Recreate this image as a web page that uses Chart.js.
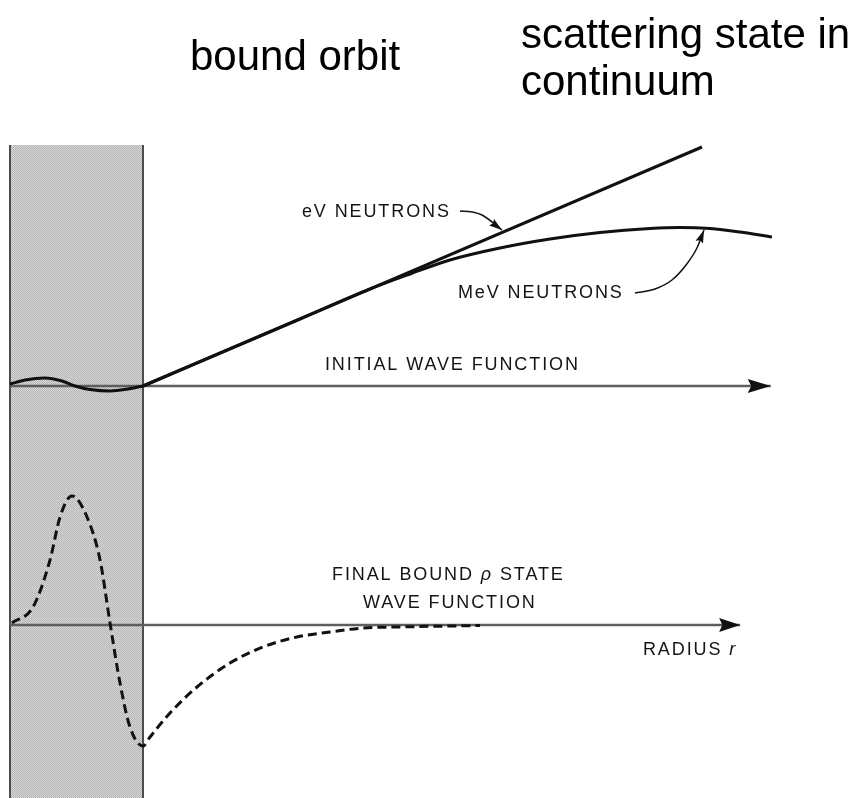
<!DOCTYPE html>
<html>
<head>
<meta charset="utf-8">
<script src="https://cdn.jsdelivr.net/npm/chart.js@4.4.0/dist/chart.umd.min.js"></script>
<style>
  html, body { margin: 0; padding: 0; background: #fff; }
  #wrap { width: 857px; height: 798px; }
</style>
</head>
<body>
<div id="wrap"><canvas id="chart" width="857" height="798"></canvas></div>
<script>
// radius r in units of the nuclear radius R, amplitudes in arbitrary units
const shadeTop = 2.41;

const initialAxisR = [0, 5.72];
const finalAxisR = [0, 5.49];

// initial wave function inside the nucleus
const innerR = [0, 0.113, 0.263, 0.391, 0.489, 0.602, 0.752, 0.887, 1.0];
const innerPsi = [0.02, 0.06, 0.08, 0.05, 0, -0.035, -0.05, -0.03, 0];

// outside: eV neutrons (straight line)
const evR = [1.0, 5.203];
const evPsi = [0, 2.39];

// outside: MeV neutrons (bends over)
const mevR = [1.0, 2.18, 2.707, 3.008, 3.308, 3.684, 4.06, 4.436, 4.812, 5.038, 5.263, 5.489, 5.729];
const mevPsi = [0, 0.67, 0.97, 1.12, 1.26, 1.38, 1.47, 1.535, 1.575, 1.585, 1.575, 1.54, 1.49];

// final bound p state (dashed)
const boundR = [0.015, 0.173, 0.301, 0.376, 0.466, 0.579, 0.677, 0.752, 0.827, 0.902, 1.0,
  1.053, 1.203, 1.406, 1.654, 1.902, 2.158, 2.406, 2.654, 2.91, 3.534];
const boundPsi = [0.02, 0.18, 0.65, 1.08, 1.29, 1.08, 0.65, 0.02, -0.58, -1.02, -1.21,
  -1.12, -0.88, -0.62, -0.38, -0.22, -0.12, -0.07, -0.03, -0.02, -0.005];

// leader lines for the labels
const evLeaderR = [3.383, 3.474, 3.549, 3.699];
const evLeaderPsi = [1.75, 1.74, 1.71, 1.56];
const mevLeaderR = [4.699, 4.85, 4.977, 5.083, 5.165, 5.218];
const mevLeaderPsi = [0.93, 0.97, 1.06, 1.21, 1.38, 1.56];

const labels = [
  { parts: [["eV NEUTRONS"]], r: 2.195, v: 1.74, axis: "y" },
  { parts: [["MeV NEUTRONS"]], r: 3.368, v: 0.93, axis: "y" },
  { parts: [["INITIAL WAVE FUNCTION"]], r: 2.368, v: 0.21, axis: "y" },
  { parts: [["FINAL BOUND "], ["\u03C1", true], [" STATE"]], r: 2.421, v: 0.5, axis: "y2" },
  { parts: [["WAVE FUNCTION"]], r: 2.654, v: 0.22, axis: "y2" },
  { parts: [["RADIUS "], ["r", true]], r: 4.759, v: -0.25, axis: "y2" },
];

function pts(xs, ys) {
  return xs.map((x, i) => ({ x: x, y: ys[i] }));
}

// fine dotted grey pattern for the nucleus
function makePattern() {
  const c = document.createElement("canvas");
  c.width = 2;
  c.height = 2;
  const g = c.getContext("2d");
  g.fillStyle = "#d8d8d8";
  g.fillRect(0, 0, 2, 2);
  g.fillStyle = "#b4b4b4";
  g.fillRect(0, 0, 1, 1);
  g.fillRect(1, 1, 1, 1);
  return g.createPattern(c, "repeat");
}

const arrowPlugin = {
  id: "arrows",
  afterDatasetsDraw(chart) {
    const ctx = chart.ctx;
    chart.data.datasets.forEach((ds, i) => {
      if (!ds.arrow) return;
      const pts = chart.getDatasetMeta(i).data;
      const a = pts[pts.length - 2];
      const b = pts[pts.length - 1];
      const ang = Math.atan2(b.y - a.y, b.x - a.x);
      const L = ds.arrow.len, W = ds.arrow.half;
      ctx.save();
      ctx.translate(b.x, b.y);
      ctx.rotate(ang);
      ctx.fillStyle = "#111";
      ctx.beginPath();
      ctx.moveTo(0, 0);
      ctx.lineTo(-L, -W);
      ctx.lineTo(-L * 0.85, 0);
      ctx.lineTo(-L, W);
      ctx.closePath();
      ctx.fill();
      ctx.restore();
    });
  },
};

const textPlugin = {
  id: "texts",
  afterDraw(chart) {
    const ctx = chart.ctx;
    const xs = chart.scales.x;
    ctx.save();
    ctx.fillStyle = "#141414";
    ctx.textBaseline = "middle";
    ctx.textAlign = "left";
    labels.forEach((lb) => {
      let px = xs.getPixelForValue(lb.r);
      const py = chart.scales[lb.axis].getPixelForValue(lb.v);
      lb.parts.forEach(([t, it]) => {
        ctx.font = (it ? "italic " : "") + "18px 'Liberation Sans', Arial, sans-serif";
        ctx.letterSpacing = "1.9px";
        ctx.fillText(t, px, py);
        px += ctx.measureText(t).width;
      });
    });
    ctx.letterSpacing = "0px";
    ctx.fillStyle = "#000";
    ctx.textBaseline = "alphabetic";
    ctx.font = "42px 'Liberation Sans', Arial, sans-serif";
    ctx.fillText("bound orbit", 190, 70);
    ctx.fillText("scattering state in", 521, 48);
    ctx.fillText("continuum", 521, 95);
    ctx.restore();
  },
};

document.addEventListener("DOMContentLoaded", function () {
  const ctx = document.getElementById("chart").getContext("2d");
  const solid = { showLine: true, pointRadius: 0, borderColor: "#111", borderWidth: 3,
    cubicInterpolationMode: "monotone", fill: false };

  new Chart(ctx, {
    type: "scatter",
    data: {
      datasets: [
        Object.assign({}, solid, { data: pts(innerR, innerPsi), yAxisID: "y" }),
        Object.assign({}, solid, { data: pts(evR, evPsi), yAxisID: "y" }),
        Object.assign({}, solid, { data: pts(mevR, mevPsi), yAxisID: "y" }),
        Object.assign({}, solid, { data: pts(boundR, boundPsi), yAxisID: "y2", borderDash: [9, 5] }),
        Object.assign({}, solid, { data: pts(evLeaderR, evLeaderPsi), yAxisID: "y", borderWidth: 1.5,
          arrow: { len: 13, half: 4 } }),
        Object.assign({}, solid, { data: pts(mevLeaderR, mevLeaderPsi), yAxisID: "y", borderWidth: 1.5,
          arrow: { len: 13, half: 4 } }),
        // axes with arrows
        Object.assign({}, solid, { data: pts(initialAxisR, [0, 0]), yAxisID: "y", borderColor: "#5e5e5e",
          borderWidth: 2.5, arrow: { len: 23, half: 7 }, order: 2 }),
        Object.assign({}, solid, { data: pts(finalAxisR, [0, 0]), yAxisID: "y2", borderColor: "#5e5e5e",
          borderWidth: 2.5, arrow: { len: 21, half: 7 }, order: 2 }),
        // nucleus edges
        Object.assign({}, solid, { data: pts([0, 0], [shadeTop, -4.12]), yAxisID: "y", borderColor: "#4d4d4d",
          borderWidth: 2, order: 3 }),
        Object.assign({}, solid, { data: pts([1, 1], [shadeTop, -4.12]), yAxisID: "y", borderColor: "#4d4d4d",
          borderWidth: 2, order: 3 }),
        // nucleus shading
        { data: pts([0, 1], [shadeTop, shadeTop]), yAxisID: "y", showLine: true, pointRadius: 0,
          borderWidth: 0, borderColor: "rgba(0,0,0,0)", backgroundColor: makePattern(),
          fill: { value: -4.2 }, order: 5 },
      ],
    },
    options: {
      responsive: false,
      animation: false,
      layout: { padding: 0 },
      plugins: { legend: { display: false }, tooltip: { enabled: false } },
      scales: {
        x: { type: "linear", min: -0.0752, max: 6.3684, display: false },
        y: { type: "linear", min: -4.12, max: 3.86, display: false },
        y2: { type: "linear", min: -1.73, max: 6.25, display: false },
      },
    },
    plugins: [arrowPlugin, textPlugin],
  });
});
</script>
</body>
</html>
